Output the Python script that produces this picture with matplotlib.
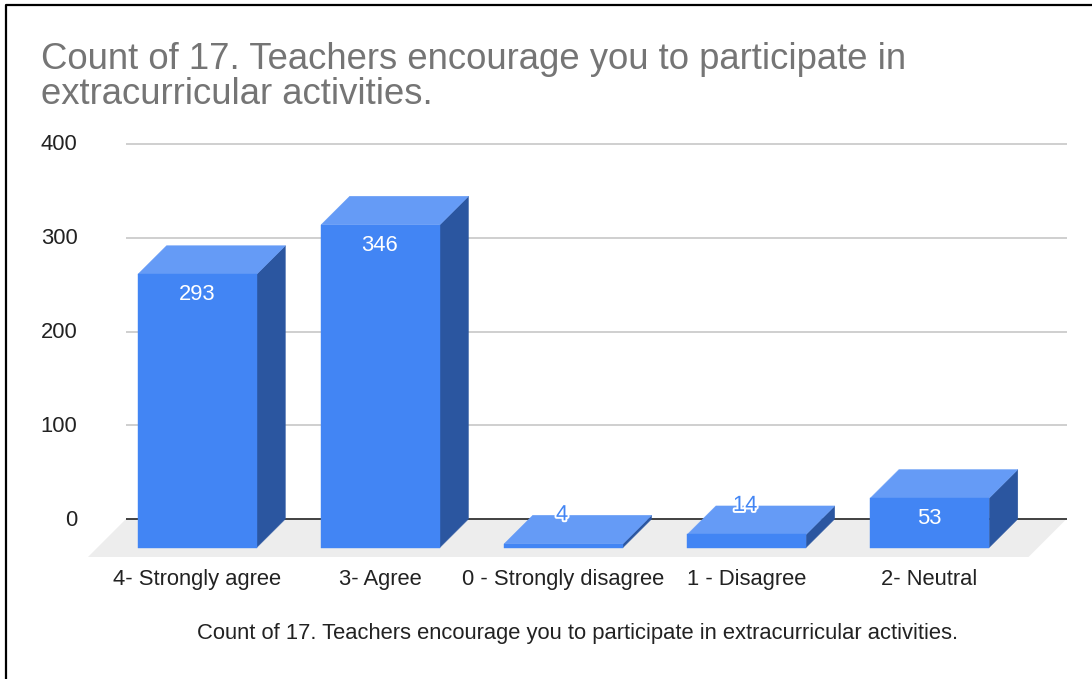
import matplotlib
matplotlib.use("Agg")
import matplotlib.pyplot as plt
import matplotlib.patheffects as pe
from matplotlib.patches import Polygon, Rectangle

categories = ["4- Strongly agree", "3- Agree", "0 - Strongly disagree", "1 - Disagree", "2- Neutral"]
values = [293, 346, 4, 14, 53]
y_ticks = [0, 100, 200, 300, 400]
title = "Count of 17. Teachers encourage you to participate in\nextracurricular activities."
x_title = "Count of 17. Teachers encourage you to participate in extracurricular activities."

plt.rcParams["font.family"] = ["Liberation Sans", "DejaVu Sans"]

W, H = 1092, 679
fig = plt.figure(figsize=(W / 100, H / 100), dpi=100, facecolor="white")
ax = fig.add_axes([0, 0, 1, 1])
ax.axis("off")

# Scales: one category step and one value unit, in pixels
STEP = 183.1
UNIT = 0.9375
BAR_SCALE = 0.995
X0_PX, Y0_PX = 197.4, 519.0
ax.set_xlim(-X0_PX / STEP, (W - X0_PX) / STEP)
ax.set_ylim(-(H - Y0_PX) / UNIT, Y0_PX / UNIT)

def px_x(d):
    return d / STEP

def px_y(d):
    return d / UNIT

half = px_x(59.4)
depth_x = px_x(28.6)
depth_y = px_y(28.5)
x_left = px_x(126 - X0_PX)
x_right = px_x(1066.5 - X0_PX)
FS = 15.8

# Floor
ax.add_patch(Polygon([(x_left, 0), (x_right, 0),
                      (x_right - px_x(38), -px_y(38)), (x_left - px_x(38), -px_y(38))],
                     closed=True, fc="#ededed", ec="none", zorder=1))
# Gridlines and zero line
for t in y_ticks:
    color = "#333333" if t == 0 else "#cccccc"
    ax.plot([x_left, x_right], [t, t], color=color, lw=1.3, zorder=2, solid_capstyle="butt")
    ax.text(px_x(77.5 - X0_PX), t - px_y(6.5), str(t), ha="right", va="baseline", fontsize=FS,
            color="#222222", zorder=6)

FRONT, TOP, SIDE = "#4285f4", "#659bf6", "#2b56a0"
for i, (cat, v) in enumerate(zip(categories, values)):
    h = v * BAR_SCALE
    l, r = i - half, i + half
    b = -depth_y
    t = h - depth_y
    ax.add_patch(Polygon([(r, b), (r + depth_x, 0), (r + depth_x, h), (r, t)],
                         closed=True, fc=SIDE, ec=SIDE, lw=0.3, zorder=3))
    ax.add_patch(Polygon([(l, t), (r, t), (r + depth_x, h), (l + depth_x, h)],
                         closed=True, fc=TOP, ec=TOP, lw=0.3, zorder=3))
    ax.add_patch(Rectangle((l, b), r - l, h, fc=FRONT, ec=FRONT, lw=0.3, zorder=4))
    if v > 30:
        ax.text(i - px_x(0.5), t - px_y(26), str(v), ha="center", va="baseline", fontsize=FS,
                color="white", zorder=5)
    else:
        ax.text(i - px_x(1.5), h - px_y(5), str(v), ha="center", va="baseline", fontsize=FS,
                color=FRONT, zorder=5,
                path_effects=[pe.withStroke(linewidth=2.8, foreground="white")])
    ax.text(i - px_x(0.5), -px_y(66), cat, ha="center", va="baseline", fontsize=FS,
            color="#222222", zorder=6)

ax.text(px_x(577.5 - X0_PX), -px_y(120), x_title, ha="center", va="baseline", fontsize=FS, color="#222222")

ax.text(px_x(41 - X0_PX), px_y(519 - 112.5), title, ha="left", va="bottom", fontsize=26.25, color="#757575",
        linespacing=1.02)

# Screenshot frame
ax.plot([px_x(6 - X0_PX), px_x(6 - X0_PX), px_x(W - X0_PX)],
        [-px_y(H - 519), px_y(519 - 5.5), px_y(519 - 5.5)],
        color="black", lw=1.6, zorder=7, solid_capstyle="butt")

fig.savefig("out.png", dpi=100)
